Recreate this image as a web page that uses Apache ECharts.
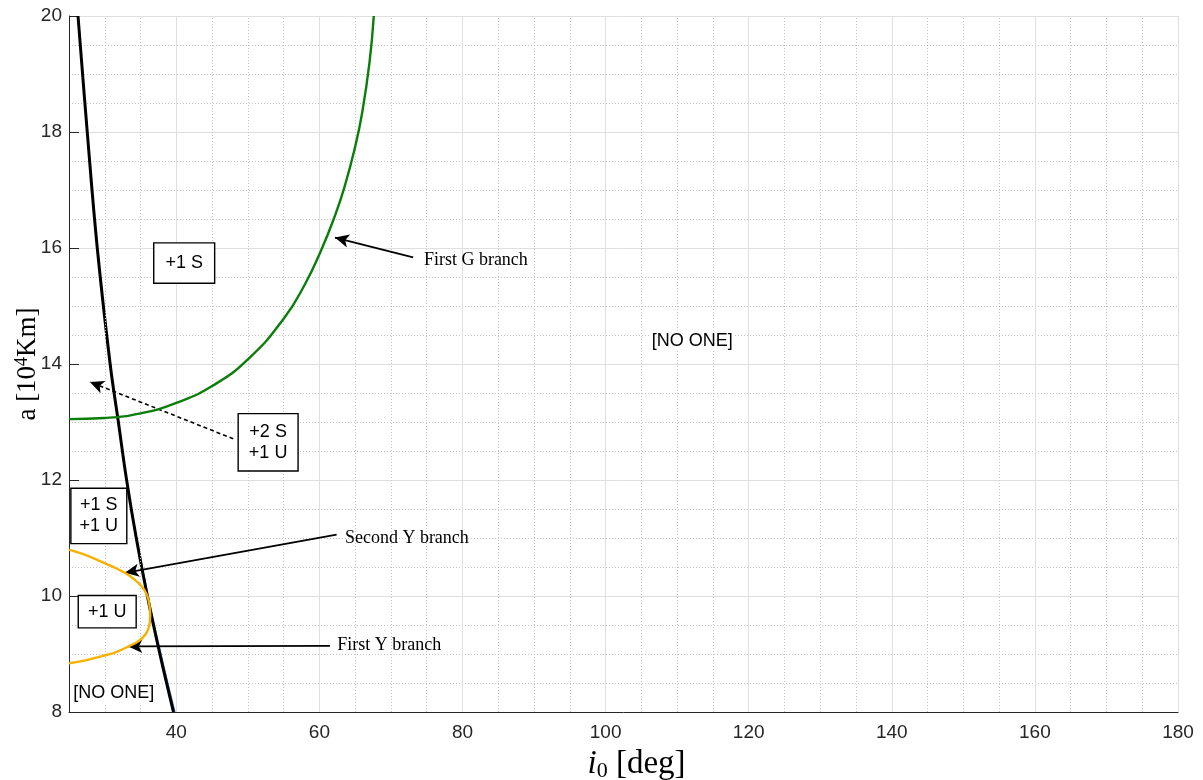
<!DOCTYPE html>
<html>
<head>
<meta charset="utf-8">
<script src="https://cdn.jsdelivr.net/npm/echarts@6/dist/echarts.min.js"></script>
<style>
  html, body { margin: 0; padding: 0; background: #ffffff; }
  #chart { width: 1203px; height: 780px; }
</style>
</head>
<body>
<div id="chart"></div>
<script>
// Equilibrium branches: inclination i0 [deg] against semi-major axis a [10^4 km]
const blackI = [26.26, 27.55, 28.95, 30.75, 31.9, 33.05, 34.4, 35.95, 37.7, 39.6];
const blackA = [20, 18, 16, 14, 13, 12, 11, 10, 9, 8];
const blueI  = [26.26, 27.55, 28.95, 30.75, 31.9, 33.05, 34.45, 36.05, 37.85, 39.8];
const blueA  = [20, 18, 16, 14, 13, 12, 11, 10, 9, 8];

// First G branch
const greenI = [25, 30, 35, 40, 45, 50, 55, 58, 60.2, 62, 63.5, 65, 66, 67, 67.6];
const greenA = [13.05, 13.07, 13.15, 13.33, 13.62, 14.08, 14.78, 15.38, 15.95, 16.5, 17.05, 17.75, 18.35, 19.2, 20.0];

// Second Y branch (upper half) joined to the first Y branch (lower half)
const yellowI = [25, 27, 29, 31, 32.8, 34.2, 35.2, 35.85, 36.2, 36.35, 36.2, 35.7, 34.8, 33.3, 31.5, 29.5, 27.3, 25];
const yellowA = [10.80, 10.72, 10.62, 10.51, 10.40, 10.28, 10.16, 10.03, 9.88, 9.67, 9.48, 9.34, 9.23, 9.13, 9.03, 8.96, 8.89, 8.84];

// Axis ticks
const xTicks = [40, 60, 80, 100, 120, 140, 160, 180];
const xMinorTicks = [30, 35, 45, 50, 55, 65, 70, 75, 85, 90, 95, 105, 110, 115, 125, 130, 135, 145, 150, 155, 165, 170, 175];
const yTicks = [8, 10, 12, 14, 16, 18, 20];

// Region annotations (boxed stability counts)
const boxText = ['+1 S', '+2 S\n+1 U', '+1 S\n+1 U', '+1 U'];
const boxI = [41.10, 52.83, 29.17, 30.34];
const boxA = [15.74, 12.65, 11.38, 9.73];

// Regions without any equilibrium
const emptyText = ['[NO ONE]', '[NO ONE]'];
const emptyI = [31.26, 112.12];
const emptyA = [8.32, 14.40];

// Branch names with their pointer arrows
const noteText = ['First G branch', 'Second Y branch', 'First Y branch'];
const noteI = [74.6, 63.56, 62.49];
const noteA = [15.79, 10.99, 9.155];
const arrowFromI = [73.1, 62.4, 61.47];
const arrowFromA = [15.84, 11.06, 9.14];
const arrowToI = [62.17, 32.82, 33.29];
const arrowToA = [16.18, 10.40, 9.13];

// Dashed pointer from the "+2 S / +1 U" box to its region
const dashFrom = [47.96, 12.71];
const dashTo = [27.93, 13.69];

const zip = (xs, ys) => xs.map((x, k) => [x, ys[k]]);

const AXIS_COLOR = '#262626';
const SANS = '"Liberation Sans", Arial, Helvetica, sans-serif';
const SERIF = '"Liberation Serif", "Times New Roman", serif';

const boxPadding = [[9, 11], [7, 10], [6, 8], [5, 9]];

const chart = echarts.init(document.getElementById('chart'), null, { renderer: 'canvas' });

// shared settings for the text-only scatter layers
const textLayer = {
  type: 'scatter',
  symbolSize: 0,
  z: 10,
  silent: true,
  itemStyle: { opacity: 1 },
  emphasis: { disabled: true }
};

const option = {
  animation: false,
  backgroundColor: '#ffffff',
  grid: { left: 69, right: 25, top: 16, bottom: 68, containLabel: false, outerBoundsMode: 'none' },
  xAxis: {
    type: 'value',
    min: 25,
    max: 180,
    name: '{i|i}{s|0}{t| [deg]}',
    nameLocation: 'middle',
    nameGap: 34,
    nameTextStyle: {
      padding: [0, 0, 0, 26],
      rich: {
        i: { fontFamily: SERIF, fontStyle: 'italic', fontSize: 33, lineHeight: 36, color: '#000' },
        s: { fontFamily: SERIF, fontSize: 22, lineHeight: 14, verticalAlign: 'bottom', color: '#000' },
        t: { fontFamily: SERIF, fontSize: 33, lineHeight: 36, color: '#000' }
      }
    },
    axisLine: { show: true, onZero: false, lineStyle: { color: AXIS_COLOR, width: 1 } },
    axisTick: { show: true, inside: true, length: 10, customValues: xTicks, lineStyle: { color: AXIS_COLOR, width: 1 } },
    axisLabel: { show: true, customValues: xTicks, margin: 11, color: AXIS_COLOR, fontFamily: SANS, fontSize: 19 },
    splitLine: { show: false }
  },
  yAxis: {
    type: 'value',
    min: yTicks[0],
    max: yTicks[yTicks.length - 1],
    interval: 2,
    name: '{t|a [10}{p|4}{t|Km]}',
    nameLocation: 'middle',
    nameRotate: 90,
    nameGap: 26,
    nameMoveOverlap: false,
    nameTextStyle: {
      rich: {
        t: { fontFamily: SERIF, fontSize: 27, lineHeight: 30, color: '#000' },
        p: { fontFamily: SERIF, fontSize: 18, lineHeight: 14, verticalAlign: 'top', color: '#000' }
      }
    },
    axisLine: { show: true, onZero: false, lineStyle: { color: AXIS_COLOR, width: 1 } },
    axisTick: { show: true, inside: true, length: 10, lineStyle: { color: AXIS_COLOR, width: 1 } },
    axisLabel: { show: true, margin: 7, color: AXIS_COLOR, fontFamily: SANS, fontSize: 19 },
    splitLine: { show: true, lineStyle: { color: '#dfdfdf', width: 1 } },
    minorTick: { show: false, splitNumber: 4 },
    minorSplitLine: { show: true, lineStyle: { color: '#c4c4c4', width: 1, type: [1, 2] } }
  },
  series: [
    {
      // vertical grid lines at the x ticks (major) and every 5 deg (minor)
      name: 'xgrid',
      type: 'line',
      data: [],
      z: 1,
      silent: true,
      markLine: {
        silent: true,
        symbol: 'none',
        label: { show: false },
        animation: false,
        data: xTicks.map(v => ({ xAxis: v, lineStyle: { color: '#dfdfdf', width: 1, type: 'solid' } }))
          .concat(xMinorTicks.map(v => ({ xAxis: v, lineStyle: { color: '#c4c4c4', width: 1, type: [1, 2] } })))
      }
    },
    {
      name: 'blue',
      type: 'line',
      data: zip(blueI, blueA),
      smooth: 0.4,
      showSymbol: false,
      z: 3,
      lineStyle: { color: '#4f6fb8', width: 1.4 }
    },
    {
      name: 'black',
      type: 'line',
      data: zip(blackI, blackA),
      smooth: 0.4,
      showSymbol: false,
      z: 4,
      lineStyle: { color: '#000000', width: 3 }
    },
    {
      name: 'First G branch',
      type: 'line',
      data: zip(greenI, greenA),
      smooth: 0.5,
      showSymbol: false,
      z: 5,
      lineStyle: { color: '#0a7d0a', width: 2.4 }
    },
    {
      name: 'Y branches',
      type: 'line',
      data: zip(yellowI, yellowA),
      smooth: 0.45,
      showSymbol: false,
      z: 5,
      lineStyle: { color: '#f7b100', width: 2.4 }
    },
    {
      // pointer arrows
      name: 'arrows',
      type: 'line',
      data: [],
      z: 6,
      markLine: {
        silent: true,
        symbol: ['none', 'arrow'],
        symbolSize: [10, 14],
        label: { show: false },
        animation: false,
        lineStyle: { color: '#000000', width: 1.8, type: 'solid' },
        data: arrowFromI.map((v, k) => [
          { coord: [v, arrowFromA[k]] },
          { coord: [arrowToI[k], arrowToA[k]] }
        ]).concat([[
          { coord: dashFrom, lineStyle: { color: '#000000', width: 1.6, type: [4, 3] } },
          { coord: dashTo }
        ]])
      }
    },
    Object.assign({}, textLayer, {
      name: 'boxes',
      data: boxText.map((t, k) => ({
        value: [boxI[k], boxA[k]],
        name: t,
        label: { padding: boxPadding[k] }
      })),
      label: {
        show: true,
        position: 'inside',
        formatter: p => p.name,
        color: '#000',
        fontFamily: SANS,
        fontSize: 18,
        lineHeight: 21,
        align: 'center',
        backgroundColor: '#ffffff',
        borderColor: '#000000',
        borderWidth: 1.4
      }
    }),
    Object.assign({}, textLayer, {
      name: 'empty',
      data: emptyText.map((t, k) => ({ value: [emptyI[k], emptyA[k]], name: t })),
      label: {
        show: true,
        position: 'inside',
        formatter: p => p.name,
        color: '#000',
        fontFamily: SANS,
        fontSize: 18,
        backgroundColor: '#ffffff',
        padding: [1, 1]
      }
    }),
    Object.assign({}, textLayer, {
      name: 'notes',
      data: noteText.map((t, k) => ({ value: [noteI[k], noteA[k]], name: t })),
      label: {
        show: true,
        position: 'right',
        distance: 0,
        formatter: p => p.name,
        color: '#000',
        fontFamily: SERIF,
        fontSize: 18
      }
    })
  ]
};

chart.setOption(option);
</script>
</body>
</html>
